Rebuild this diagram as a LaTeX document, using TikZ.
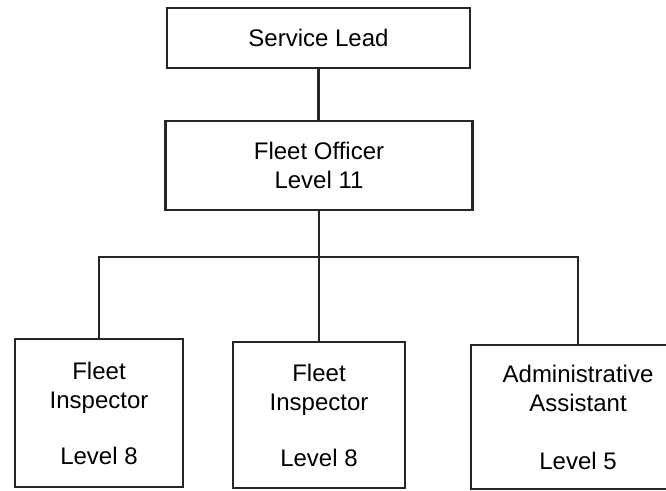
\documentclass[tikz,border=0pt]{standalone}
\usepackage{fontspec}
\setmainfont{Liberation Sans}
\usepackage{tikz}
\usetikzlibrary{positioning,calc}

\tikzset{
    role/.style={draw=black!85, line width=2.2pt, align=center, inner sep=0pt,
        font=\fontsize{24}{29}\selectfont, text=black},
    link/.style={draw=black!85, line width=2.2pt}
}

\begin{document}
\begin{tikzpicture}[x=1pt, y=-1pt]
    \useasboundingbox (0,0) rectangle (666,490);

    % Top of the chart
    \node[role, minimum width=303pt, minimum height=60pt] (lead) at (318.5,38) {Service Lead};
    \node[role, minimum width=307pt, minimum height=89pt] (officer) at (319,165.5) {Fleet Officer\\Level 11};

    % Staff row
    \node[role, minimum width=168pt, minimum height=148pt] (insp1) at (99,413) {Fleet\\Inspector\\[27pt]Level 8};
    \node[role, minimum width=172pt, minimum height=146pt] (insp2) at (319,415) {Fleet\\Inspector\\[27pt]Level 8};
    \node[role, minimum width=214pt, minimum height=144pt] (assist) at (578,417) {Administrative\\Assistant\\[29pt]Level 5};

    % Connectors
    \coordinate (bar) at (319,257);
    \draw[link] (lead.south) -- (lead.south |- officer.north);
    \draw[link] (officer.south) -- (bar);
    \draw[link] (bar) -| (insp1.north);
    \draw[link] (bar) -- (insp2.north);
    \draw[link] (bar) -| (assist.north);
\end{tikzpicture}
\end{document}
